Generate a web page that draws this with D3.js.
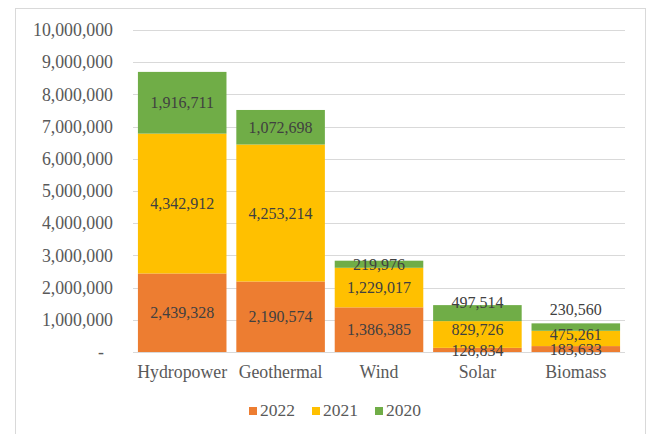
<!DOCTYPE html>
<html>
<head>
<meta charset="utf-8">
<script src="https://cdn.jsdelivr.net/npm/d3@7"></script>
<style>
  html, body { margin: 0; padding: 0; background: #fff; }
  svg { display: block; }
  svg text { font-family: "Liberation Serif", "Times New Roman", Tinos, serif; }
</style>
</head>
<body>
<svg id="chart" width="649" height="434"></svg>
<script>
// Renewable generation by source, stacked by year
const categories = ["Hydropower", "Geothermal", "Wind", "Solar", "Biomass"];
const seriesNames = ["2022", "2021", "2020"];
const values2022 = [2439328, 2190574, 1386385, 128834, 183633];
const values2021 = [4342912, 4253214, 1229017, 829726, 475261];
const values2020 = [1916711, 1072698, 219976, 497514, 230560];
const yTicks = [0, 1000000, 2000000, 3000000, 4000000, 5000000, 6000000, 7000000, 8000000, 9000000, 10000000];

const colors = { "2022": "#ED7D31", "2021": "#FFC000", "2020": "#70AD47" };
const serif = '"Liberation Serif", "Times New Roman", Tinos, serif';

const svg = d3.select("#chart");
const plot = { left: 133, right: 625, top: 30, bottom: 352 };

// outer chart frame
svg.append("rect")
  .attr("x", 15.5).attr("y", 8.5)
  .attr("width", 630).attr("height", 440)
  .attr("fill", "#fff")
  .attr("stroke", "#d9d9d9").attr("stroke-width", 1);

const rows = categories.map((c, i) => ({
  category: c,
  "2022": values2022[i],
  "2021": values2021[i],
  "2020": values2020[i]
}));

const stacked = d3.stack().keys(seriesNames)(rows);

const x = d3.scaleBand()
  .domain(categories)
  .range([plot.left, plot.right])
  .paddingInner(0.1)
  .paddingOuter(0.05);

const y = d3.scaleLinear()
  .domain([0, 10000000])
  .range([plot.bottom, plot.top]);

// gridlines
svg.append("g")
  .selectAll("line")
  .data(yTicks.filter(d => d > 0))
  .join("line")
  .attr("x1", plot.left).attr("x2", plot.right)
  .attr("y1", d => Math.round(y(d)) + 0.5)
  .attr("y2", d => Math.round(y(d)) + 0.5)
  .attr("stroke", "#d9d9d9").attr("stroke-width", 1);

// y axis labels
const fmt = d3.format(",");
const yAxis = d3.axisLeft(y)
  .tickValues(yTicks)
  .tickSize(0)
  .tickPadding(20)
  .tickFormat(d => d === 0 ? "-" : fmt(d));

const yg = svg.append("g")
  .attr("transform", `translate(${plot.left},0)`)
  .call(yAxis)
  .attr("font-family", serif);
yg.select(".domain").remove();
yg.selectAll("text")
  .style("font-family", serif)
  .attr("font-size", 17.8)
  .attr("fill", "#595959")
  .attr("dx", d => d === 0 ? -9 : 0);

// bars
const layers = svg.append("g")
  .selectAll("g")
  .data(stacked)
  .join("g")
  .attr("fill", d => colors[d.key]);

layers.selectAll("rect")
  .data(d => d)
  .join("rect")
  .attr("x", d => x(d.data.category))
  .attr("width", x.bandwidth())
  .attr("y", d => y(d[1]))
  .attr("height", d => y(d[0]) - y(d[1]));

// baseline
svg.append("line")
  .attr("x1", plot.left).attr("x2", plot.right)
  .attr("y1", plot.bottom + 0.5).attr("y2", plot.bottom + 0.5)
  .attr("stroke", "#d9d9d9");

// value labels, a few lifted to stay clear of thin segments
const nudge = {
  "Solar|2020": -11, "Solar|2021": -5,
  "Biomass|2020": -18, "Biomass|2021": -4
};
const labels = [];
stacked.forEach(layer => {
  layer.forEach(d => {
    labels.push({
      key: layer.key,
      category: d.data.category,
      value: d[1] - d[0],
      mid: (d[0] + d[1]) / 2
    });
  });
});

svg.append("g")
  .selectAll("text")
  .data(labels)
  .join("text")
  .attr("x", d => x(d.category) + x.bandwidth() / 2)
  .attr("y", d => y(d.mid) + (nudge[d.category + "|" + d.key] || 0))
  .attr("dy", "0.35em")
  .attr("text-anchor", "middle")
  .style("font-family", serif)
  .attr("font-size", 16)
  .attr("fill", "#404040")
  .text(d => fmt(d.value));

// category labels
svg.append("g")
  .selectAll("text")
  .data(categories)
  .join("text")
  .attr("x", d => x(d) + x.bandwidth() / 2)
  .attr("y", 378)
  .attr("text-anchor", "middle")
  .style("font-family", serif)
  .attr("font-size", 17.8)
  .attr("fill", "#595959")
  .text(d => d);

// legend
const legendX = [249, 312, 375];
const legend = svg.append("g")
  .selectAll("g")
  .data(seriesNames)
  .join("g")
  .attr("transform", (d, i) => `translate(${legendX[i]},411)`);
legend.append("rect")
  .attr("x", 0).attr("y", -4)
  .attr("width", 8).attr("height", 8)
  .attr("fill", d => colors[d]);
legend.append("text")
  .attr("x", 11).attr("y", 5)
  .style("font-family", serif)
  .attr("font-size", 17.5)
  .attr("fill", "#595959")
  .text(d => d);
</script>
</body>
</html>
